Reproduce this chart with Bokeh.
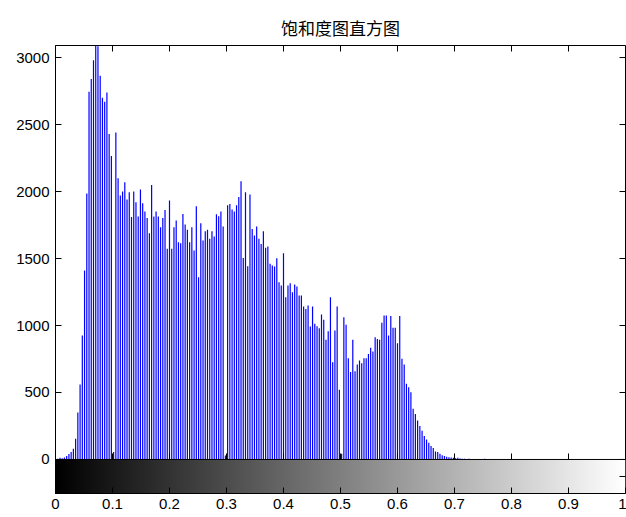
import numpy as np
from bokeh.plotting import figure
from bokeh.models import Range1d, FixedTicker, Span
from bokeh.embed import file_html
from bokeh.resources import INLINE

title_text = "饱和度图直方图"

# imhist counts, 256 bins
counts = [
    0, 5, 12, 10, 15, 25, 40, 55, 80, 155,
    350, 560, 925, 1410, 1985, 2745, 2840, 2980, 3090, 3085,
    2865, 2700, 2670, 2740, 2430, 2265, 55, 2440, 2100, 1970,
    2000, 2070, 1940, 1995, 1809, 2000, 1920, 1813, 2015, 1913,
    1850, 1803, 1689, 2049, 1813, 1850, 1813, 1734, 1803, 1863,
    1572, 1933, 1572, 1734, 1784, 1622, 1614, 1833, 1754, 1714,
    1622, 1734, 1560, 1890, 1360, 1764, 1634, 1704, 1714, 1647,
    1704, 1664, 1830, 1816, 1851, 1739, 30, 1898, 1906, 1866,
    1851, 1898, 1960, 2077, 1504, 1995, 1443, 1977, 1721, 1672,
    1739, 1647, 1609, 1704, 1580, 1590, 1460, 1448, 1440, 1502,
    1323, 1298, 1540, 1211, 1298, 1316, 1249, 1306, 1291, 1224,
    1224, 1142, 1124, 1149, 993, 1142, 1013, 995, 980, 1082,
    1042, 893, 958, 1211, 726, 963, 1142, 520, 42, 1062,
    1005, 756, 652, 893, 659, 709, 739, 719, 756, 756,
    788, 833, 806, 913, 900, 893, 1020, 1075, 1075, 925,
    1070, 983, 983, 868, 1070, 751, 709, 565, 540, 502,
    378, 340, 290, 250, 215, 175, 150, 125, 100, 85,
    60, 55, 42, 32, 25, 20, 17, 15, 12, 10,
    12, 7, 6, 5, 4, 5, 3, 3, 2, 2,
    1, 2, 6,
] + [0] * 63
assert len(counts) == 256
n_bins = len(counts)
bin_pos = [i / (n_bins - 1) for i in range(n_bins)]

x_ticks = [0, 0.1, 0.2, 0.3, 0.4, 0.5, 0.6, 0.7, 0.8, 0.9, 1]
x_tick_labels = ["0", "0.1", "0.2", "0.3", "0.4", "0.5", "0.6", "0.7", "0.8", "0.9", "1"]
y_ticks = [0, 500, 1000, 1500, 2000, 2500, 3000]
y_max = 3090
bar_floor = -254  # bottom of the grey-level bar

FONT = "Liberation Sans"

p = figure(width=626, height=517, output_backend="svg", toolbar_location=None,
           x_range=Range1d(0, 1), y_range=Range1d(bar_floor, y_max),
           min_border_left=55, min_border_right=1, min_border_top=45,
           min_border_bottom=24, title=title_text)
p.background_fill_color = "white"
p.border_fill_color = "white"
p.outline_line_color = "black"
p.outline_line_width = 1
p.grid.visible = False

p.title.align = "center"
p.title.text_font = "Noto Sans CJK SC"
p.title.text_font_size = "17px"
p.title.text_font_style = "normal"
p.title.text_color = "black"
p.title.standoff = 11

# grey-level bar
grad = np.zeros((1, 256), dtype=np.uint32)
view = grad.view(dtype=np.uint8).reshape((1, 256, 4))
lev = np.arange(256, dtype=np.uint8)
view[0, :, 0] = lev
view[0, :, 1] = lev
view[0, :, 2] = lev
view[0, :, 3] = 255
p.image_rgba(image=[grad], x=0, y=bar_floor, dw=1, dh=-bar_floor)

# stems
p.segment(x0=bin_pos, y0=[0] * n_bins, x1=bin_pos, y1=counts,
          line_color="#0000ff", line_width=1.2)

p.add_layout(Span(location=0, dimension="width", line_color="black", line_width=1))

# ticks on top, right, zero line
px_per_count = 448 / (y_max - bar_floor)
tick_len = 6 / px_per_count
p.scatter(x=x_ticks, y=[y_max] * len(x_ticks), marker="dash", size=12,
          angle=np.pi / 2, line_color="black", line_width=1)
p.scatter(x=[1] * len(y_ticks), y=y_ticks, marker="dash", size=12,
          line_color="black", line_width=1)
p.scatter(x=[0, 1], y=[bar_floor / 2] * 2, marker="dash", size=12,
          line_color="black", line_width=1)
p.segment(x0=x_ticks, y0=[0] * len(x_ticks), x1=x_ticks, y1=[tick_len] * len(x_ticks),
          line_color="black", line_width=1)

p.xaxis.ticker = FixedTicker(ticks=x_ticks)
p.xaxis.major_label_overrides = {t: l for t, l in zip(x_ticks, x_tick_labels)}
p.yaxis.ticker = FixedTicker(ticks=y_ticks)
for ax in (p.xaxis, p.yaxis):
    ax.major_tick_in = 6
    ax.major_tick_out = 0
    ax.minor_tick_in = 0
    ax.minor_tick_out = 0
    ax.axis_line_color = "black"
    ax.major_tick_line_color = "black"
    ax.major_label_text_font = FONT
    ax.major_label_text_font_size = "15px"
    ax.major_label_text_color = "black"
p.xaxis.major_label_standoff = 5
p.yaxis.major_label_standoff = 6

open("out.html", "w").write(file_html(p, INLINE))
